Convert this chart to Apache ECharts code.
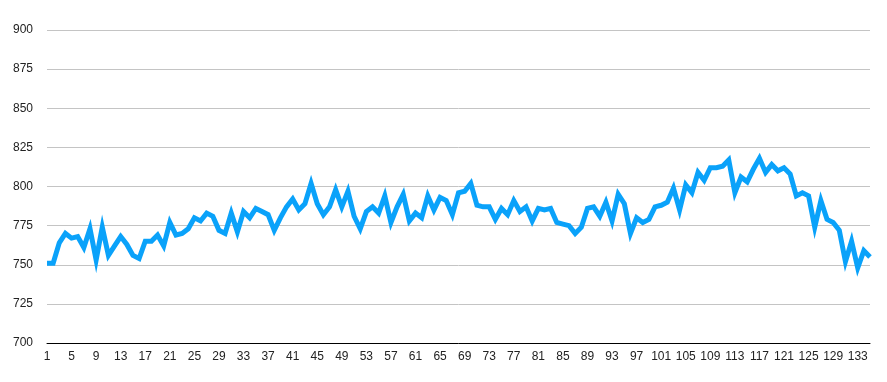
<!DOCTYPE html>
<html>
<head>
<meta charset="utf-8">
<script src="https://cdn.jsdelivr.net/npm/echarts@6/dist/echarts.min.js"></script>
<style>html,body{margin:0;padding:0;background:#fff}#c{width:887px;height:382px}</style>
</head>
<body>
<div id="c"></div>
<script>
var categories = [];
for (var i = 1; i <= 135; i++) categories.push(String(i));

var values = [
  751, 751, 764, 770, 767, 768, 761, 773, 753, 774,
  756, 762, 768, 763, 756, 754, 765, 765, 769, 762,
  777, 769, 770, 773, 780, 778, 783, 781, 772, 770,
  783, 771, 784, 780, 786, 784, 782, 772, 780, 787,
  792, 785, 789, 802, 789, 782, 787, 798, 787, 797,
  781, 773, 784, 787, 783, 794, 777, 787, 795, 778,
  783, 780, 794, 785, 793, 791, 782, 796, 797, 802,
  788, 787, 787, 779, 786, 782, 791, 784, 787, 778,
  786, 785, 786, 777, 776, 775, 770, 774, 786, 787,
  781, 790, 778, 795, 789, 770, 780, 777, 779, 787,
  788, 790, 799, 785, 801, 796, 809, 804, 812, 812,
  813, 817, 796, 806, 803, 811, 818, 809, 814, 810,
  812, 808, 794, 796, 794, 774, 791, 779, 777, 772,
  752, 765, 748, 759, 755
];

var yTicks = { min: 700, max: 900, interval: 25 };

var chart = echarts.init(document.getElementById('c'), null, { renderer: 'canvas' });
chart.setOption({
  animation: false,
  backgroundColor: '#fff',
  grid: { left: 47, right: 17, top: 30, bottom: 39, containLabel: false },
  xAxis: {
    type: 'category',
    data: categories,
    boundaryGap: false,
    axisLine: { show: true, lineStyle: { color: '#000', width: 1 } },
    axisTick: { show: false },
    axisLabel: { interval: 3, color: '#222', fontFamily: 'Liberation Sans', fontSize: 12, margin: 8 },
    splitLine: { show: false }
  },
  yAxis: {
    type: 'value',
    min: yTicks.min, max: yTicks.max, interval: yTicks.interval,
    axisLine: { show: false },
    axisTick: { show: false },
    axisLabel: { color: '#222', fontFamily: 'Liberation Sans', fontSize: 12, margin: 14 },
    splitLine: { show: true, lineStyle: { color: '#c4c4c4', width: 1 } }
  },
  series: [{
    type: 'line',
    data: values,
    symbol: 'none',
    lineStyle: { color: '#0aa2fa', width: 5, join: 'miter' },
    itemStyle: { color: '#0aa2fa' }
  }]
});
</script>
</body>
</html>
